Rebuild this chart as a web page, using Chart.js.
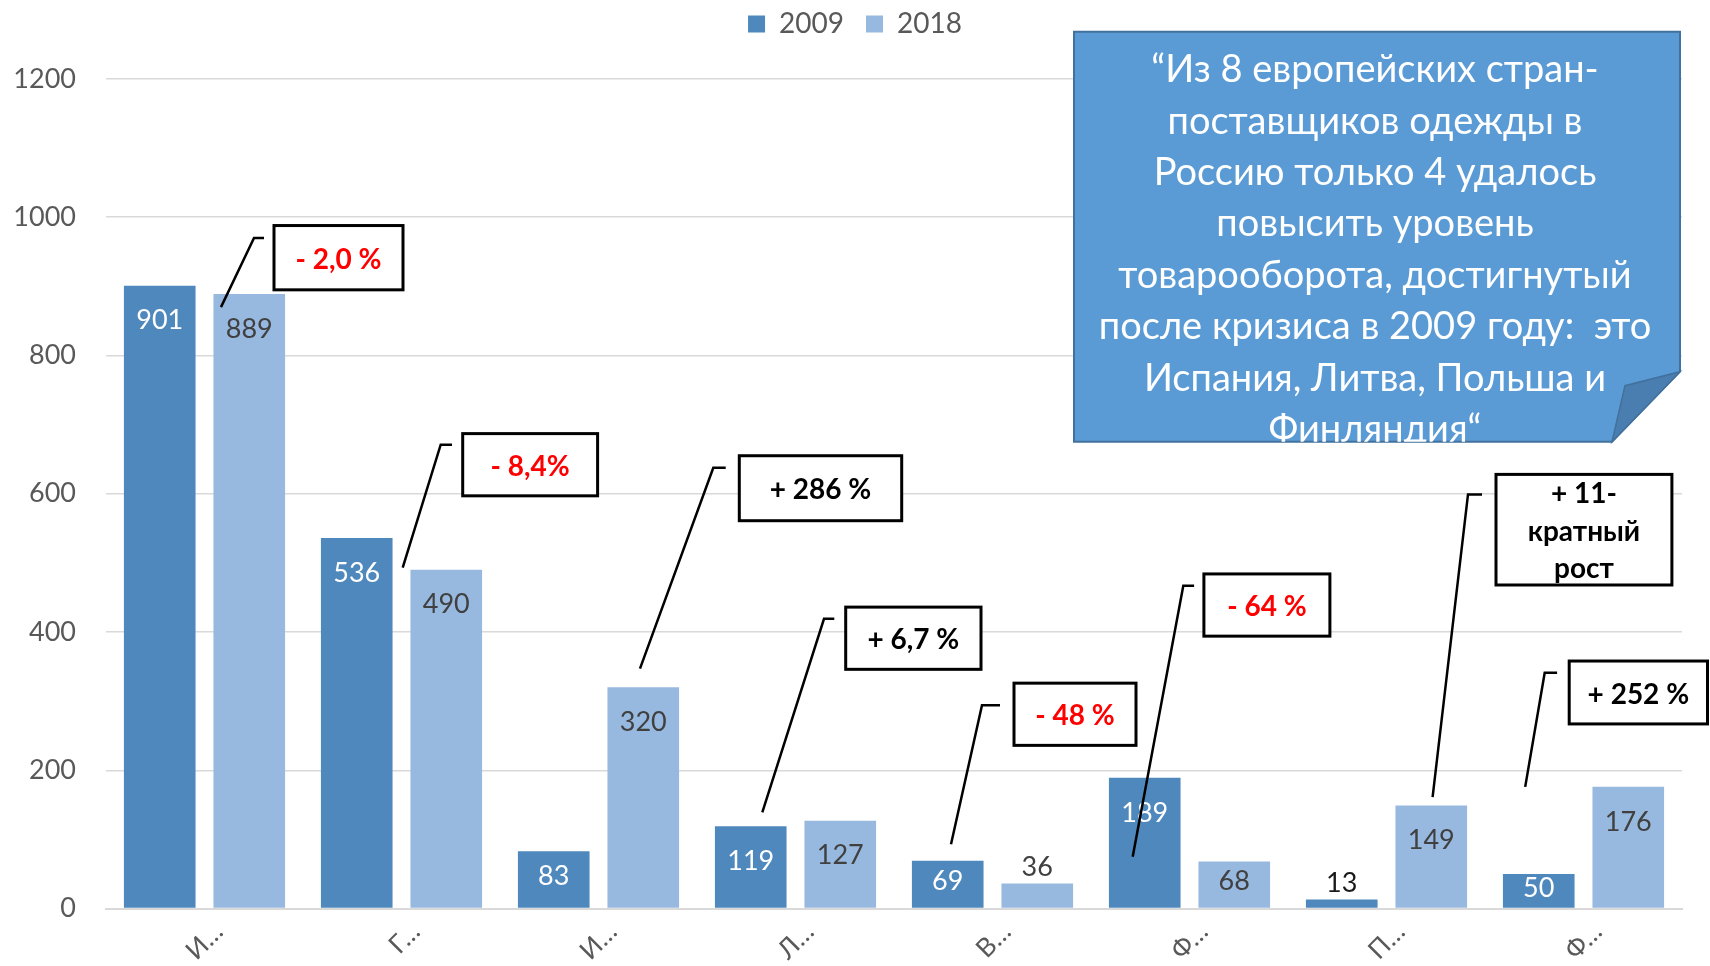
<!DOCTYPE html>
<html lang="ru">
<head>
<meta charset="utf-8">
<title>Поставщики одежды в Россию, 2009 и 2018</title>
<script src="https://cdn.jsdelivr.net/npm/chart.js@4.4.1/dist/chart.umd.min.js"></script>
<style>
  html, body { margin: 0; padding: 0; background: #fff; }
  #wrap { width: 1710px; height: 966px; }
</style>
</head>
<body>
<div id="wrap"><canvas id="chart" width="1710" height="966"></canvas></div>
<script>
// data
const categories = ['И…', 'Г…', 'И…', 'Л…', 'В…', 'Ф…', 'П…', 'Ф…'];
const seriesNames = ['2009', '2018'];
const values2009 = [901, 536, 83, 119, 69, 189, 13, 50];
const values2018 = [889, 490, 320, 127, 36, 68, 149, 176];
const yMax = 1200;
const yStep = 200;

const changeTexts = [
  ['- 2,0 %'], ['- 8,4%'], ['+ 286 %'], ['+ 6,7 %'],
  ['- 48 %'], ['- 64 %'], ['+ 11-', 'кратный', 'рост'], ['+ 252 %'],
];
const changeIsDrop = [true, true, false, false, true, true, false, false];

const noteLines = [
  '“Из 8 европейских стран-',
  'поставщиков одежды в',
  'Россию только 4 удалось',
  'повысить уровень',
  'товарооборота, достигнутый',
  'после кризиса в 2009 году:  это',
  'Испания, Литва, Польша и',
  'Финляндия“',
];

// callout geometry: x as pixel offset from the category centre, y in axis units
const calloutGeom = [
  { start: [16.5, 870], bend: [49.5, 970], tick: 59.5, box: [69.5, 198.5, 988, 895] },
  { start: [1.2, 493], bend: [39.2, 671], tick: 50.5, box: [61.2, 196.1, 687, 597] },
  { start: [41.5, 347], bend: [114.8, 637.5], tick: 127.2, box: [140.8, 303.2, 655, 561] },
  { start: [-33.2, 139], bend: [28.5, 419], tick: 38.8, box: [50.2, 185.5, 436, 346] },
  { start: [-41.5, 93], bend: [-10.5, 294], tick: 7.5, box: [21.5, 143.5, 326, 236] },
  { start: [-56.8, 75], bend: [-6.2, 467], tick: 4.6, box: [14.4, 140.4, 484, 394] },
  { start: [46.1, 161], bend: [81.5, 599], tick: 95.5, box: [109.5, 285.4, 628, 468] },
  { start: [-58.3, 176], bend: [-38.8, 341], tick: -26.4, box: [-14.3, 124, 358, 267] },
];

const FONT = 'Lato, "Open Sans", sans-serif';
const DARK = '#4f88bd';
const LIGHT = '#98b9df';
const AXIS_TEXT = '#595959';
const GRID = '#d9d9d9';

// taller legend block, centred on the whole canvas
const legendSpacer = {
  id: 'legendSpacer',
  beforeInit(chart) {
    const fit = chart.legend.fit;
    chart.legend.fit = function () {
      fit.call(this);
      this.height = 91;
    };
  },
  afterLayout(chart) {
    const lg = chart.legend;
    const shift = chart.width / 2 - (lg.left + lg.right) / 2;
    lg.left += shift;
    lg.right += shift;
  }
};

const barValueLabels = {
  id: 'barValueLabels',
  afterDatasetsDraw(chart) {
    const ctx = chart.ctx;
    ctx.save();
    ctx.font = '27px ' + FONT;
    ctx.textAlign = 'center';
    ctx.textBaseline = 'middle';
    chart.data.datasets.forEach((ds, di) => {
      chart.getDatasetMeta(di).data.forEach((bar, i) => {
        const h = bar.base - bar.y;
        let y, color;
        if (h < 30) {
          y = bar.y - 16;
          color = di === 0 ? '#1a1a1a' : '#404040';
        } else {
          y = bar.y + Math.min(35, h / 2 - 3);
          color = di === 0 ? '#ffffff' : '#404040';
        }
        ctx.fillStyle = color;
        ctx.fillText(String(ds.data[i]), bar.x, y);
      });
    });
    ctx.restore();
  }
};

const callouts = {
  id: 'callouts',
  afterDraw(chart) {
    const { ctx, scales: { x, y } } = chart;
    ctx.save();
    calloutGeom.forEach((g, i) => {
      const cx = x.getPixelForValue(i);
      ctx.strokeStyle = '#000';
      ctx.lineWidth = 2.5;
      ctx.beginPath();
      ctx.moveTo(cx + g.start[0], y.getPixelForValue(g.start[1]));
      ctx.lineTo(cx + g.bend[0], y.getPixelForValue(g.bend[1]));
      ctx.lineTo(cx + g.tick, y.getPixelForValue(g.bend[1]));
      ctx.stroke();

      const bx1 = cx + g.box[0], bx2 = cx + g.box[1];
      const by1 = y.getPixelForValue(g.box[2]), by2 = y.getPixelForValue(g.box[3]);
      ctx.fillStyle = '#fff';
      ctx.fillRect(bx1, by1, bx2 - bx1, by2 - by1);
      ctx.lineWidth = 3;
      ctx.strokeRect(bx1, by1, bx2 - bx1, by2 - by1);

      const lines = changeTexts[i];
      const lh = 37.5;
      const midY = (by1 + by2) / 2;
      ctx.font = 'bold 28px ' + FONT;
      ctx.textAlign = 'center';
      ctx.textBaseline = 'middle';
      ctx.fillStyle = changeIsDrop[i] ? '#ff0000' : '#000';
      lines.forEach((t, k) => {
        const ty = midY + (k - (lines.length - 1) / 2) * lh + 2;
        ctx.fillText(t, (bx1 + bx2) / 2, ty);
      });
    });
    ctx.restore();
  }
};

const noteBox = {
  id: 'noteBox',
  afterDraw(chart) {
    const ctx = chart.ctx;
    const L = 1074, T = 31.7, R = chart.chartArea.right - 2, B = 441.7;
    const foldY = 371.7, foldX = 1612, inner = [1625, 385.7];
    ctx.save();
    ctx.beginPath();
    ctx.moveTo(L, T);
    ctx.lineTo(R, T);
    ctx.lineTo(R, foldY);
    ctx.lineTo(foldX, B);
    ctx.lineTo(L, B);
    ctx.closePath();
    ctx.fillStyle = '#5b9bd5';
    ctx.fill();
    ctx.lineWidth = 2;
    ctx.strokeStyle = '#41719c';
    ctx.stroke();

    ctx.save();
    ctx.clip();
    ctx.fillStyle = '#ffffff';
    ctx.font = '38px ' + FONT;
    ctx.textAlign = 'center';
    ctx.textBaseline = 'middle';
    const cx = (L + R) / 2 - 2;
    noteLines.forEach((t, k) => ctx.fillText(t, cx, 70 + k * 51.4));
    ctx.restore();

    ctx.beginPath();
    ctx.moveTo(foldX, B);
    ctx.lineTo(inner[0], inner[1]);
    ctx.lineTo(R, foldY);
    ctx.closePath();
    ctx.fillStyle = '#4a7eb0';
    ctx.fill();
    ctx.lineWidth = 1.5;
    ctx.strokeStyle = '#41719c';
    ctx.stroke();
    ctx.restore();
  }
};

new Chart(document.getElementById('chart').getContext('2d'), {
  type: 'bar',
  data: {
    labels: categories,
    datasets: [
      { label: seriesNames[0], data: values2009, backgroundColor: DARK },
      { label: seriesNames[1], data: values2018, backgroundColor: LIGHT },
    ],
  },
  options: {
    responsive: false,
    animation: false,
    layout: { padding: { top: -12, left: 0, right: 28, bottom: 0 } },
    datasets: { bar: { categoryPercentage: 0.909, barPercentage: 0.8, borderWidth: 0 } },
    plugins: {
      legend: {
        position: 'top',
        labels: { boxWidth: 17, boxHeight: 17, padding: 22, color: AXIS_TEXT, font: { family: FONT, size: 28 } },
      },
      tooltip: { enabled: false },
    },
    scales: {
      x: {
        grid: { display: false, drawTicks: false },
        border: { display: true, color: GRID, width: 2 },
        ticks: {
          color: AXIS_TEXT, font: { family: FONT, size: 26 },
          minRotation: 45, maxRotation: 45, autoSkip: false, padding: 8, labelOffset: 14,
        },
        afterFit: s => { s.height = 57.5; },
      },
      y: {
        min: 0, max: yMax,
        grid: { color: GRID, lineWidth: 1.5, drawTicks: false },
        border: { display: false },
        ticks: {
          stepSize: yStep, padding: 30, color: AXIS_TEXT,
          font: { family: FONT, size: 27 },
          callback: v => String(v),
        },
        afterFit: s => { s.width = 106; },
      },
    },
  },
  plugins: [legendSpacer, barValueLabels, callouts, noteBox],
});
</script>
</body>
</html>
